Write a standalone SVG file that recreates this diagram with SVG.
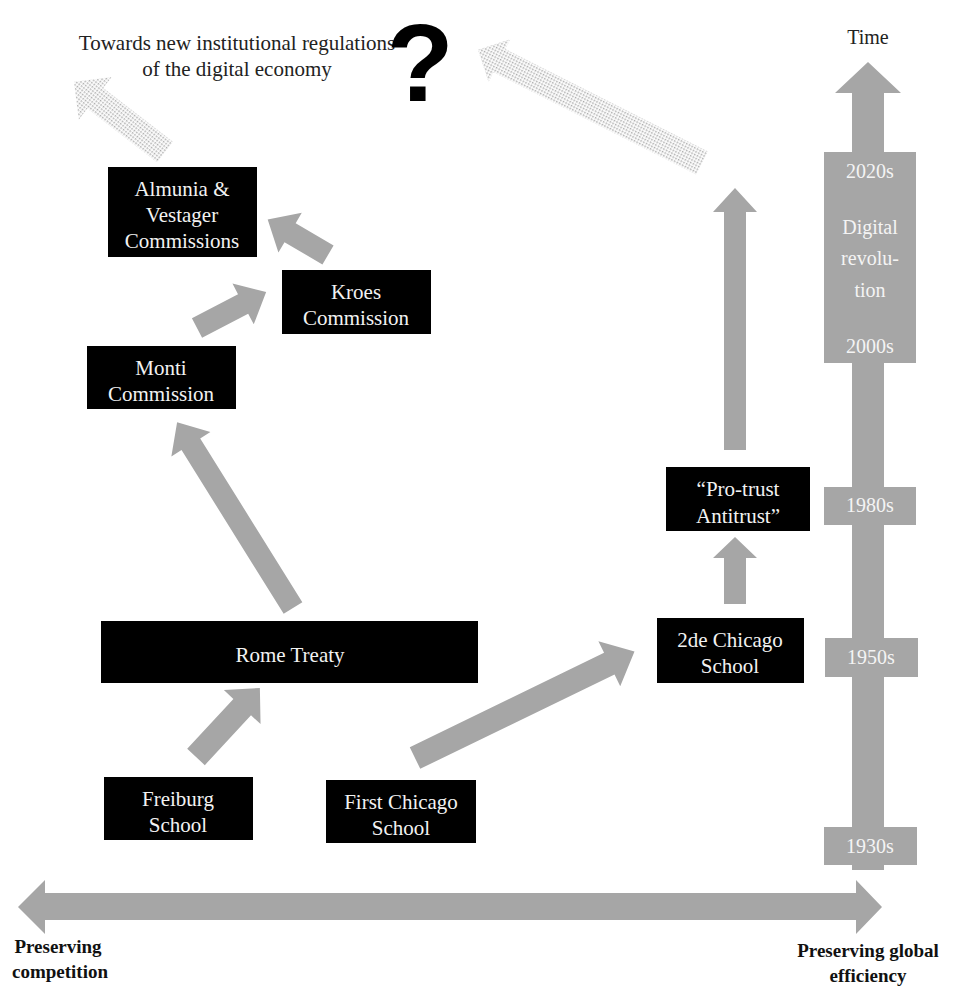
<svg xmlns="http://www.w3.org/2000/svg" width="955" height="989" viewBox="0 0 955 989">
<style>
text{font-family:"Liberation Serif","DejaVu Serif",serif;font-size:21px;text-anchor:middle}
.box{fill:#000}
.bt{fill:#f2f2f2}
.ax{fill:#a6a6a6}
.at{fill:#f4f4f4;font-size:20px}
.dk{fill:#222}
.bold{font-weight:bold;fill:#111;font-size:19px}
.dot{fill:url(#dots)}
</style>
<defs>
<pattern id="dots" patternUnits="userSpaceOnUse" width="3" height="3">
<rect x="0.5" y="0.5" width="1.6" height="1.6" fill="#aaaaaa"/>
</pattern>
</defs>
<rect width="955" height="989" fill="#fff"/>

<g id="time-axis">
<path class="ax" d="M868,62 L901,93 H884 V870 H852 V93 H835 Z"/>
<rect class="ax" x="824" y="152" width="92" height="211"/>
<rect class="ax" x="824" y="487" width="92" height="38"/>
<rect class="ax" x="825" y="638" width="93" height="39"/>
<rect class="ax" x="824" y="827" width="93" height="38"/>
<text class="dk" x="868" y="44" style="font-size:20px">Time</text>
<text class="at" x="870" y="178">2020s</text>
<text class="at" x="870" y="234">Digital</text>
<text class="at" x="870" y="265">revolu-</text>
<text class="at" x="870" y="297">tion</text>
<text class="at" x="870" y="353">2000s</text>
<text class="at" x="870" y="512">1980s</text>
<text class="at" x="871" y="664">1950s</text>
<text class="at" x="870" y="853">1930s</text>
</g>

<g id="horizontal-axis">
<path class="ax" d="M18,907 L45,880 V893 H856 V880 L882,907 L856,934 V920 H45 V934 Z"/>
<text class="bold" x="58" y="953">Preserving</text>
<text class="bold" x="60" y="978">competition</text>
<text class="bold" x="868" y="957">Preserving global</text>
<text class="bold" x="868" y="982">efficiency</text>
</g>

<g id="connectors">
<path class="ax" transform="translate(196,757) rotate(-47.2)" d="M0,-12 H68 V-25 L94,0 L68,25 V12 H0 Z"/>
<path class="ax" transform="translate(415,758) rotate(-25.9)" d="M0,-12 H216 V-25 L244,0 L216,25 V12 H0 Z"/>
<path class="ax" transform="translate(293,608) rotate(-121.95)" d="M0,-11 H193 V-23 L219,0 L193,23 V11 H0 Z"/>
<path class="ax" transform="translate(197,328) rotate(-27.55)" d="M0,-11 H52 V-23 L78,0 L52,23 V11 H0 Z"/>
<path class="ax" transform="translate(328,255) rotate(-149.5)" d="M0,-11 H44 V-23 L70,0 L44,23 V11 H0 Z"/>
<path class="ax" d="M735,537 L757,558 H746 V604 H724 V558 H713 Z"/>
<path class="ax" d="M735,188 L757,212 H746 V450 H724 V212 H713 Z"/>
<path class="dot" transform="translate(165,152) rotate(-142.4)" d="M0,-13 H88 V-27 L115,0 L88,27 V13 H0 Z"/>
<path class="dot" transform="translate(702,163) rotate(-153.2)" d="M0,-13 H227 V-24 L251,0 L227,24 V13 H0 Z"/>
</g>

<g id="header">
<text class="dk" x="237" y="50">Towards new institutional regulations</text>
<text class="dk" x="237" y="76">of the digital economy</text>
<text x="420" y="101" style="font-family:'Liberation Sans','DejaVu Sans',sans-serif;font-weight:bold;font-size:110px;fill:#000">?</text>
</g>

<g id="almunia">
<rect class="box" x="108" y="167" width="149" height="90"/>
<text class="bt" x="182" y="196">Almunia &amp;</text>
<text class="bt" x="182" y="222">Vestager</text>
<text class="bt" x="182" y="248">Commissions</text>
</g>
<g id="kroes">
<rect class="box" x="282" y="270" width="149" height="64"/>
<text class="bt" x="356" y="299">Kroes</text>
<text class="bt" x="356" y="325">Commission</text>
</g>
<g id="monti">
<rect class="box" x="87" y="346" width="149" height="63"/>
<text class="bt" x="161" y="375">Monti</text>
<text class="bt" x="161" y="401">Commission</text>
</g>
<g id="rome">
<rect class="box" x="101" y="621" width="377" height="62"/>
<text class="bt" x="290" y="662">Rome Treaty</text>
</g>
<g id="freiburg">
<rect class="box" x="104" y="777" width="149" height="63"/>
<text class="bt" x="178" y="806">Freiburg</text>
<text class="bt" x="178" y="832">School</text>
</g>
<g id="first-chicago">
<rect class="box" x="326" y="780" width="150" height="63"/>
<text class="bt" x="401" y="809">First Chicago</text>
<text class="bt" x="401" y="835">School</text>
</g>
<g id="second-chicago">
<rect class="box" x="657" y="618" width="147" height="65"/>
<text class="bt" x="730" y="647">2de Chicago</text>
<text class="bt" x="730" y="673">School</text>
</g>
<g id="pro-trust">
<rect class="box" x="666" y="467" width="144" height="64"/>
<text class="bt" x="738" y="496">“Pro-trust</text>
<text class="bt" x="738" y="523">Antitrust”</text>
</g>
</svg>
